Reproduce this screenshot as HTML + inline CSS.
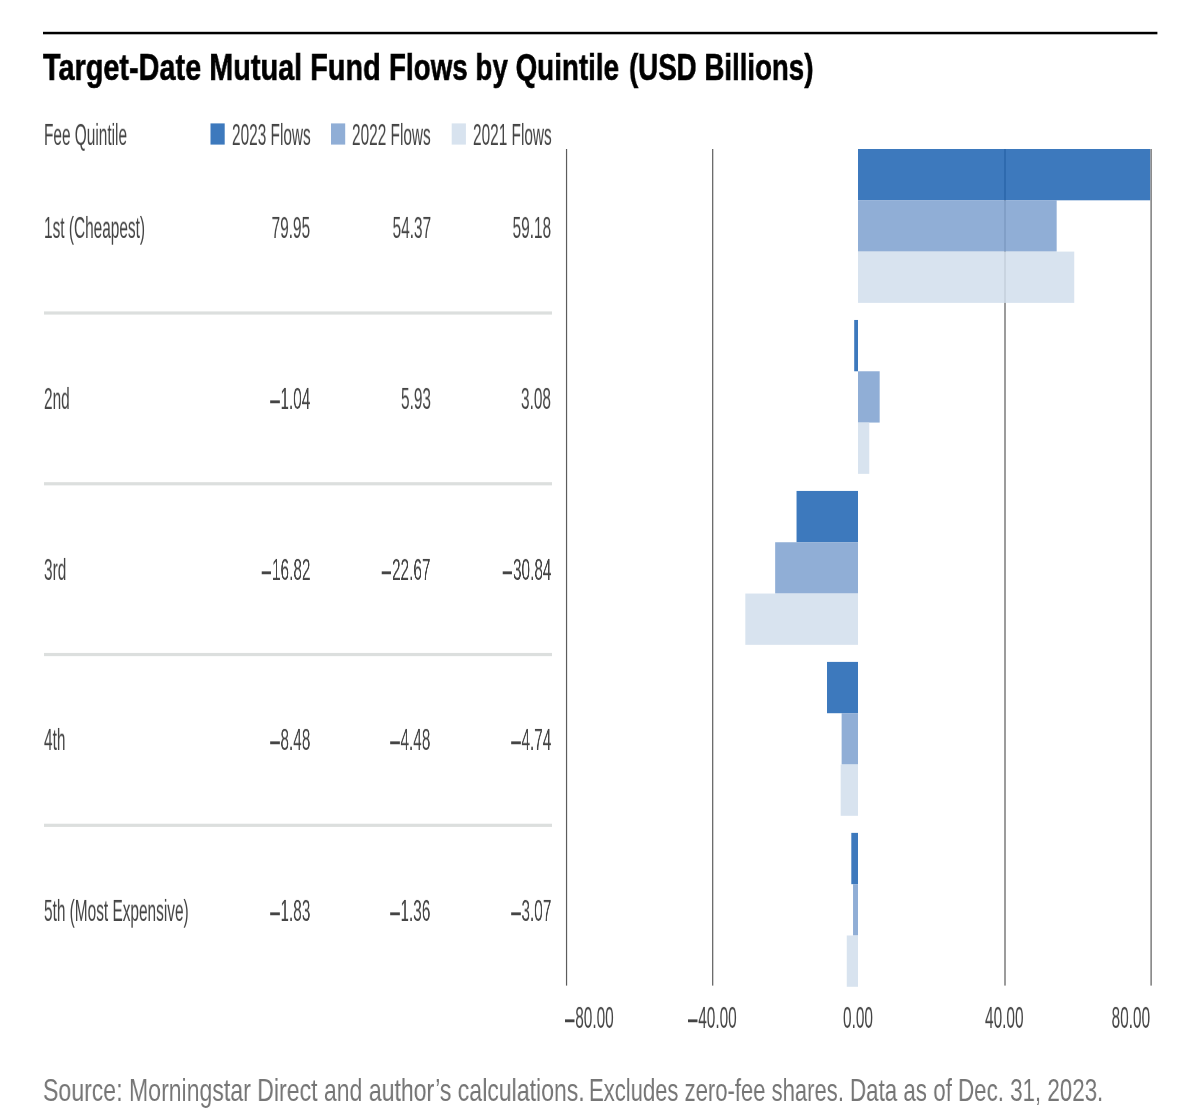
<!DOCTYPE html>
<html><head><meta charset="utf-8"><style>
html,body{margin:0;padding:0;background:#fff;width:1190px;height:1118px;overflow:hidden;position:relative}
.t{will-change:transform;position:absolute;font-family:"Liberation Sans",sans-serif;line-height:1;white-space:nowrap;transform-origin:0 0}
.t.r{transform-origin:100% 0}
.m{display:inline-block;width:19.2px;height:2.08px;background:currentColor;vertical-align:6.46px;margin-right:1.2px}
.b{position:absolute;opacity:.85}
</style></head><body>
<svg width="1190" height="1118" style="position:absolute;left:0;top:0" shape-rendering="geometricPrecision">
<rect x="43.00" y="31.80" width="1114.40" height="2.50" fill="#000"/>
<rect x="210.50" y="123.40" width="14.20" height="21.20" fill="#3d79bd"/>
<rect x="331.00" y="123.40" width="14.20" height="21.20" fill="#90aed6"/>
<rect x="451.70" y="123.40" width="14.20" height="21.20" fill="#d8e3ef"/>
<rect x="44.00" y="311.40" width="508.00" height="3.20" fill="#dcdfde"/>
<rect x="44.00" y="482.17" width="508.00" height="3.20" fill="#dcdfde"/>
<rect x="44.00" y="652.94" width="508.00" height="3.20" fill="#dcdfde"/>
<rect x="44.00" y="823.71" width="508.00" height="3.20" fill="#dcdfde"/>
<rect x="565.95" y="149.00" width="1.20" height="836.60" fill="#5c5c5c"/>
<rect x="712.10" y="149.00" width="1.20" height="836.60" fill="#5c5c5c"/>
<rect x="1004.40" y="149.00" width="1.20" height="836.60" fill="#5c5c5c"/>
<rect x="1150.50" y="149.00" width="1.20" height="836.60" fill="#5c5c5c"/>
<rect x="858.00" y="149.00" width="292.14" height="51.30" fill="#1b61b1" fill-opacity=".85"/>
<rect x="858.00" y="200.30" width="198.67" height="51.30" fill="#7ca0cf" fill-opacity=".85"/>
<rect x="858.00" y="251.60" width="216.24" height="51.30" fill="#d1deec" fill-opacity=".85"/>
<rect x="854.20" y="319.97" width="3.80" height="51.30" fill="#1b61b1" fill-opacity=".85"/>
<rect x="858.00" y="371.27" width="21.67" height="51.30" fill="#7ca0cf" fill-opacity=".85"/>
<rect x="858.00" y="422.57" width="11.25" height="51.30" fill="#d1deec" fill-opacity=".85"/>
<rect x="796.54" y="490.94" width="61.46" height="51.30" fill="#1b61b1" fill-opacity=".85"/>
<rect x="775.16" y="542.24" width="82.84" height="51.30" fill="#7ca0cf" fill-opacity=".85"/>
<rect x="745.31" y="593.54" width="112.69" height="51.30" fill="#d1deec" fill-opacity=".85"/>
<rect x="827.01" y="661.91" width="30.99" height="51.30" fill="#1b61b1" fill-opacity=".85"/>
<rect x="841.63" y="713.21" width="16.37" height="51.30" fill="#7ca0cf" fill-opacity=".85"/>
<rect x="840.68" y="764.51" width="17.32" height="51.30" fill="#d1deec" fill-opacity=".85"/>
<rect x="851.31" y="832.88" width="6.69" height="51.30" fill="#1b61b1" fill-opacity=".85"/>
<rect x="853.03" y="884.18" width="4.97" height="51.30" fill="#7ca0cf" fill-opacity=".85"/>
<rect x="846.78" y="935.48" width="11.22" height="51.30" fill="#d1deec" fill-opacity=".85"/>
</svg>
<div class="t" style="left:43.00px;top:48.90px;font-size:37.8px;font-weight:700;color:#000;transform:scale(0.7634,1.0);-webkit-text-stroke:0.6px #000">Target-Date Mutual Fund</div>
<div class="t" style="left:388.80px;top:48.90px;font-size:37.8px;font-weight:700;color:#000;transform:scale(0.7353,1.0);-webkit-text-stroke:0.6px #000">Flows by Quintile</div>
<div class="t" style="left:628.50px;top:48.90px;font-size:37.8px;font-weight:700;color:#000;transform:scale(0.7319,1.0);-webkit-text-stroke:0.6px #000">(USD Billions)</div>
<div class="t" style="left:44.00px;top:120.70px;font-size:30.8px;font-weight:400;color:#444;transform:scale(0.5,0.96);">Fee Quintile</div>
<div class="t" style="left:232.10px;top:120.70px;font-size:30.8px;font-weight:400;color:#444;transform:scale(0.5,0.96);">2023 Flows</div>
<div class="t" style="left:352.10px;top:120.70px;font-size:30.8px;font-weight:400;color:#444;transform:scale(0.5,0.96);">2022 Flows</div>
<div class="t" style="left:472.80px;top:120.70px;font-size:30.8px;font-weight:400;color:#444;transform:scale(0.5,0.96);">2021 Flows</div>
<div class="t" style="left:44.00px;top:214.20px;font-size:30.8px;font-weight:400;color:#444;transform:scale(0.5,0.96);">1st (Cheapest)</div>
<div class="t r" style="right:879.50px;top:214.20px;font-size:30.8px;font-weight:400;color:#444;transform:scale(0.5,0.96)">79.95</div>
<div class="t r" style="right:759.20px;top:214.20px;font-size:30.8px;font-weight:400;color:#444;transform:scale(0.5,0.96)">54.37</div>
<div class="t r" style="right:638.70px;top:214.20px;font-size:30.8px;font-weight:400;color:#444;transform:scale(0.5,0.96)">59.18</div>
<div class="t" style="left:44.00px;top:384.90px;font-size:30.8px;font-weight:400;color:#444;transform:scale(0.5,0.96);">2nd</div>
<div class="t r" style="right:879.50px;top:384.90px;font-size:30.8px;font-weight:400;color:#444;transform:scale(0.5,0.96)"><span class="m"></span>1.04</div>
<div class="t r" style="right:759.20px;top:384.90px;font-size:30.8px;font-weight:400;color:#444;transform:scale(0.5,0.96)">5.93</div>
<div class="t r" style="right:638.70px;top:384.90px;font-size:30.8px;font-weight:400;color:#444;transform:scale(0.5,0.96)">3.08</div>
<div class="t" style="left:44.00px;top:555.60px;font-size:30.8px;font-weight:400;color:#444;transform:scale(0.5,0.96);">3rd</div>
<div class="t r" style="right:879.50px;top:555.60px;font-size:30.8px;font-weight:400;color:#444;transform:scale(0.5,0.96)"><span class="m"></span>16.82</div>
<div class="t r" style="right:759.20px;top:555.60px;font-size:30.8px;font-weight:400;color:#444;transform:scale(0.5,0.96)"><span class="m"></span>22.67</div>
<div class="t r" style="right:638.70px;top:555.60px;font-size:30.8px;font-weight:400;color:#444;transform:scale(0.5,0.96)"><span class="m"></span>30.84</div>
<div class="t" style="left:44.00px;top:726.30px;font-size:30.8px;font-weight:400;color:#444;transform:scale(0.5,0.96);">4th</div>
<div class="t r" style="right:879.50px;top:726.30px;font-size:30.8px;font-weight:400;color:#444;transform:scale(0.5,0.96)"><span class="m"></span>8.48</div>
<div class="t r" style="right:759.20px;top:726.30px;font-size:30.8px;font-weight:400;color:#444;transform:scale(0.5,0.96)"><span class="m"></span>4.48</div>
<div class="t r" style="right:638.70px;top:726.30px;font-size:30.8px;font-weight:400;color:#444;transform:scale(0.5,0.96)"><span class="m"></span>4.74</div>
<div class="t" style="left:44.00px;top:897.00px;font-size:30.8px;font-weight:400;color:#444;transform:scale(0.5,0.96);">5th (Most Expensive)</div>
<div class="t r" style="right:879.50px;top:897.00px;font-size:30.8px;font-weight:400;color:#444;transform:scale(0.5,0.96)"><span class="m"></span>1.83</div>
<div class="t r" style="right:759.20px;top:897.00px;font-size:30.8px;font-weight:400;color:#444;transform:scale(0.5,0.96)"><span class="m"></span>1.36</div>
<div class="t r" style="right:638.70px;top:897.00px;font-size:30.8px;font-weight:400;color:#444;transform:scale(0.5,0.96)"><span class="m"></span>3.07</div>
<div class="t" style="left:565.40px;top:1004.00px;font-size:30.8px;font-weight:400;color:#444;transform:scale(0.5,0.96);"><span class="m"></span>80.00</div>
<div class="t" style="left:688.10px;top:1004.00px;font-size:30.8px;font-weight:400;color:#444;transform:scale(0.5,0.96);"><span class="m"></span>40.00</div>
<div class="t" style="left:842.80px;top:1004.00px;font-size:30.8px;font-weight:400;color:#444;transform:scale(0.5,0.96);">0.00</div>
<div class="t" style="left:985.00px;top:1004.00px;font-size:30.8px;font-weight:400;color:#444;transform:scale(0.5,0.96);">40.00</div>
<div class="t r" style="right:39.70px;top:1004.00px;font-size:30.8px;font-weight:400;color:#444;transform:scale(0.5,0.96)">80.00</div>
<div class="t" style="left:42.76px;top:1074.30px;font-size:32.0px;font-weight:400;color:#767676;transform:scale(0.7212,1.0);">Source: Morningstar Direct and author’s calculations.</div>
<div class="t" style="left:589.40px;top:1074.30px;font-size:32.0px;font-weight:400;color:#767676;transform:scale(0.689,1.0);">Excludes zero-fee shares.</div>
<div class="t" style="left:849.80px;top:1074.30px;font-size:32.0px;font-weight:400;color:#767676;transform:scale(0.698,1.0);">Data as of Dec. 31, 2023.</div>
</body></html>
